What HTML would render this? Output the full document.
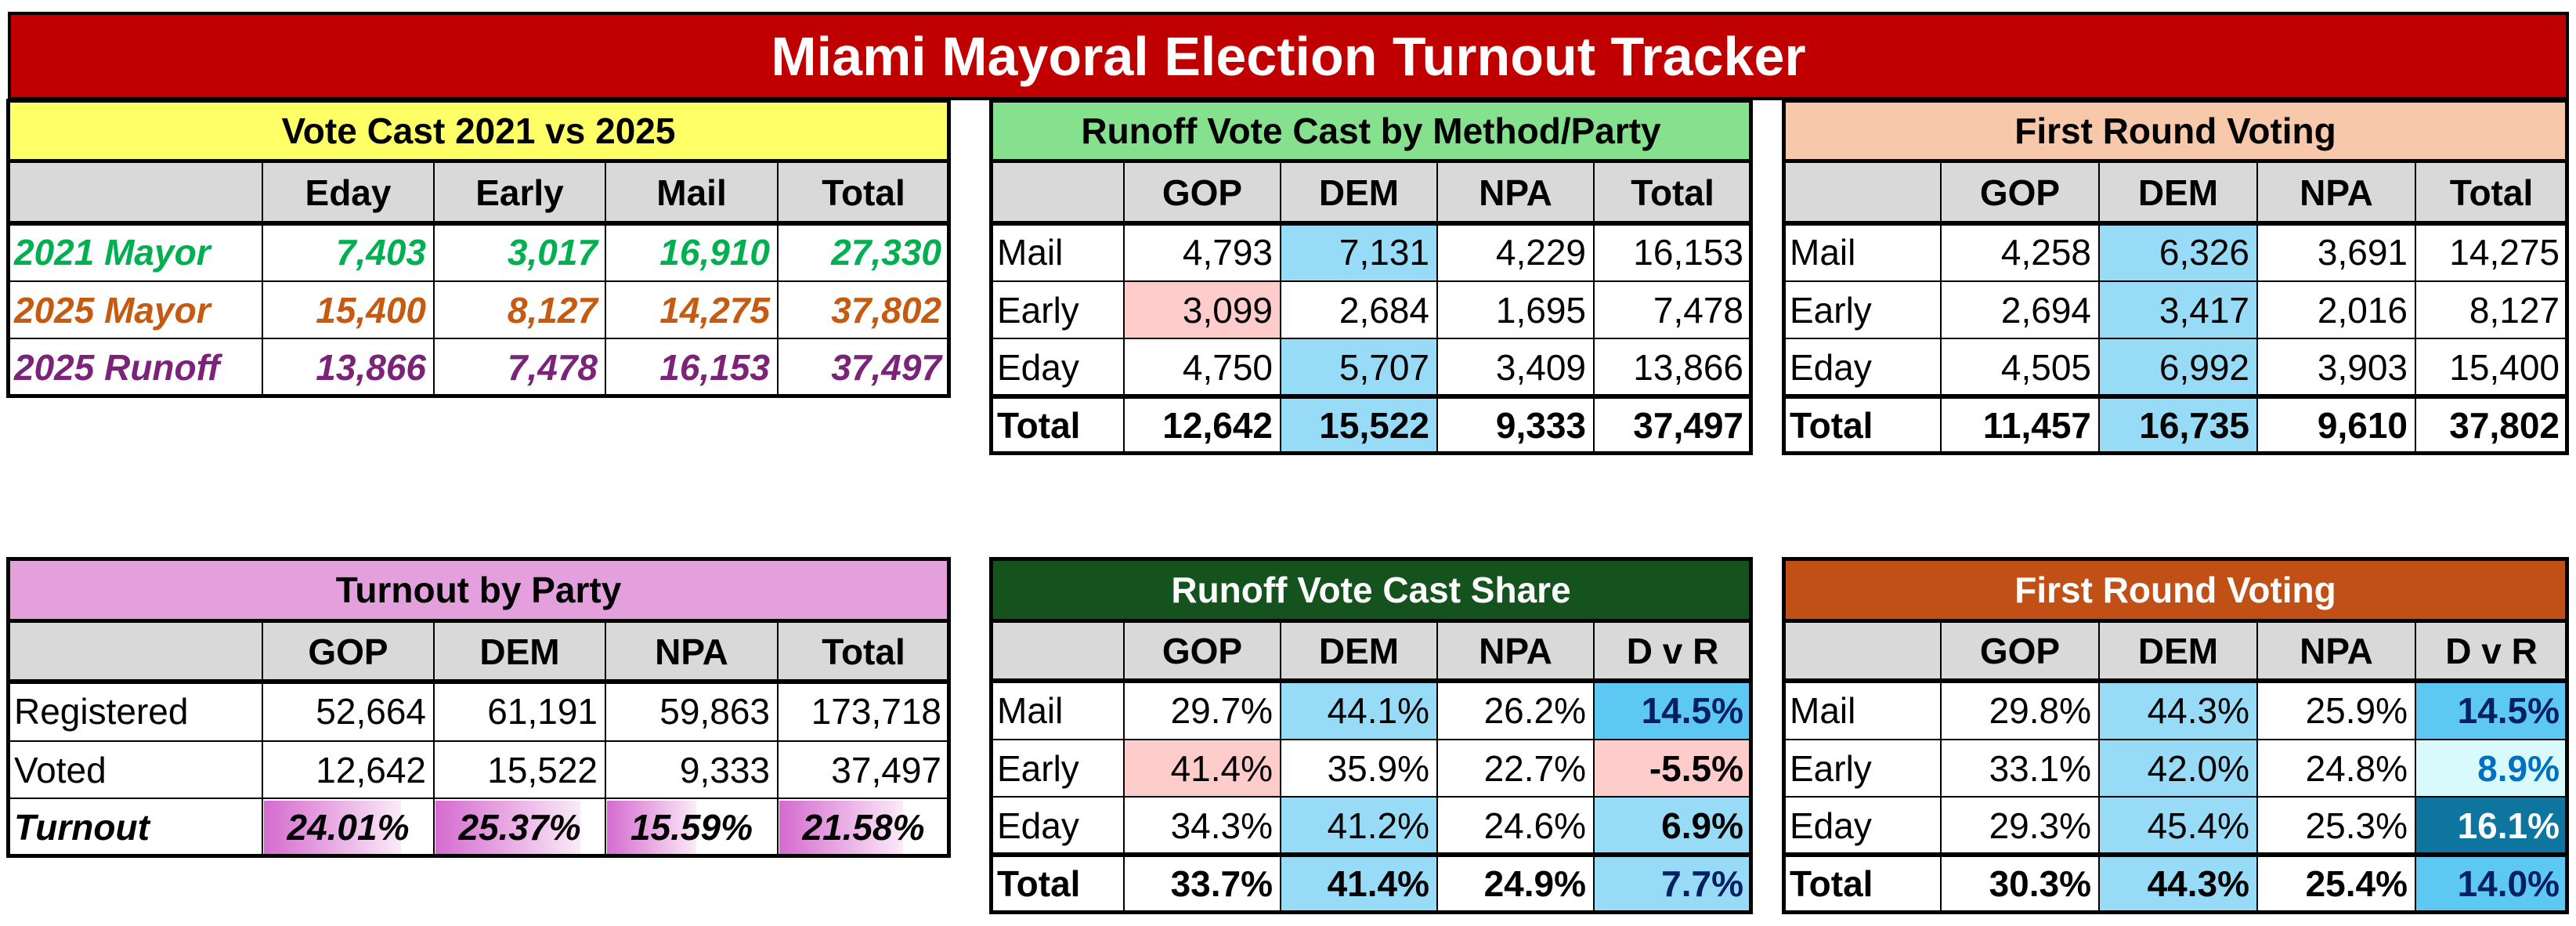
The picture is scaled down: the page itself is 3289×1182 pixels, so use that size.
<!DOCTYPE html>
<html><head><meta charset="utf-8">
<style>
html,body{margin:0;padding:0;background:#fff;}
body{width:3289px;height:1182px;position:relative;overflow:hidden;font-family:"Liberation Sans",sans-serif;}
.c{position:absolute;box-sizing:border-box;display:flex;align-items:center;font-size:46px;color:#000;white-space:nowrap;overflow:hidden;}
.ln{position:absolute;background:#000;}
#title{position:absolute;left:10px;top:15px;width:3270px;height:113px;box-sizing:border-box;border:4px solid #000;background:#C00000;color:#fff;font-weight:bold;font-size:70px;display:flex;align-items:center;justify-content:center;}
</style></head><body>
<div id="title">Miami Mayoral Election Turnout Tracker</div>
<script>
const t1Cols=["","Eday","Early","Mail","Total"];
const t1Labels=["2021 Mayor","2025 Mayor","2025 Runoff"];
const t1Values=[["7,403","3,017","16,910","27,330"],["15,400","8,127","14,275","37,802"],["13,866","7,478","16,153","37,497"]];
const t1Colors=["#00B050","#C55A11","#7B2378"];

const partyCols=["","GOP","DEM","NPA","Total"];
const shareCols=["","GOP","DEM","NPA","D v R"];
const methodLabels=["Mail","Early","Eday","Total"];
const t2Values=[["4,793","7,131","4,229","16,153"],["3,099","2,684","1,695","7,478"],["4,750","5,707","3,409","13,866"],["12,642","15,522","9,333","37,497"]];
const t3Values=[["4,258","6,326","3,691","14,275"],["2,694","3,417","2,016","8,127"],["4,505","6,992","3,903","15,400"],["11,457","16,735","9,610","37,802"]];
const t4Labels=["Registered","Voted","Turnout"];
const t4Values=[["52,664","61,191","59,863","173,718"],["12,642","15,522","9,333","37,497"]];
const turnoutPct=[24.01,25.37,15.59,21.58];
const t5Values=[["29.7%","44.1%","26.2%","14.5%"],["41.4%","35.9%","22.7%","-5.5%"],["34.3%","41.2%","24.6%","6.9%"],["33.7%","41.4%","24.9%","7.7%"]];
const t6Values=[["29.8%","44.3%","25.9%","14.5%"],["33.1%","42.0%","24.8%","8.9%"],["29.3%","45.4%","25.3%","16.1%"],["30.3%","44.3%","25.4%","14.0%"]];

const LB="#97DBF7", PK="#FFCCCC", MB="#5DC8F2", DB="#0E759E", LC="#D9FAFC", NV="#002060";

function cell(x,y,w,h,text,o){
  const d=document.createElement('div');
  d.className='c';
  d.style.left=x+'px';d.style.top=y+'px';d.style.width=w+'px';d.style.height=h+'px';
  d.style.background=o.bg||'transparent';
  d.style.color=o.color||'#000';
  d.style.fontWeight=o.bold?'bold':'normal';
  d.style.fontStyle=o.italic?'italic':'normal';
  d.style.justifyContent=o.align==='l'?'flex-start':(o.align==='r'?'flex-end':'center');
  d.style.paddingLeft=o.align==='l'?'8px':'0';
  d.style.paddingRight=o.align==='r'?'10px':'0';
  if(o.size)d.style.fontSize=o.size+'px';
  const s=document.createElement('span');
  s.style.position='relative';
  s.textContent=text;
  d.appendChild(s);
  document.body.appendChild(d);
  return d;
}
function line(x,y,w,h){
  const l=document.createElement('div');
  l.className='ln';
  l.style.left=x+'px';l.style.top=y+'px';l.style.width=w+'px';l.style.height=h+'px';
  
  
  document.body.appendChild(l);
}
function table(name,xs,ys,title,tbg,tcol,hdr,rows,hasTotal){
  const L=xs[0],R=xs[xs.length-1],T=ys[0],B=ys[ys.length-1];
  const tc=cell(L,T,R-L,ys[1]-T,title,{bg:tbg,color:tcol,bold:true});
  
  
  for(let j=0;j<hdr.length;j++){
    const hc=cell(xs[j],ys[1],xs[j+1]-xs[j],ys[2]-ys[1],hdr[j],{bg:'#D9D9D9',bold:true});
    
    
  }
  for(let i=0;i<rows.length;i++){
    for(let j=0;j<rows[i].length;j++){
      const r=rows[i][j];
      const rc=cell(xs[j],ys[i+2],xs[j+1]-xs[j],ys[i+3]-ys[i+2],r.t,r);
      
      
      if(r.bar!==undefined){
        rc.style.background='transparent';
        const b=document.createElement('div');
        b.style.position='absolute';b.style.left='2px';b.style.top='3px';b.style.bottom='3px';
        b.style.width=((xs[j+1]-xs[j])*r.bar/30)+'px';
        b.style.background='linear-gradient(90deg,#D56BCF,#FBEAF8)';
        
        
        rc.insertBefore(b,rc.firstChild);
      }
    }
  }
  for(let j=1;j<xs.length-1;j++) line(xs[j]-1,ys[1],2,B-ys[1]);
  for(let i=2;i<ys.length-1;i++) line(L,ys[i]-1,R-L,2);
  line(L,ys[1]-3,R-L,5);
  line(L,ys[2]-3,R-L,6);
  if(hasTotal) line(L,ys[ys.length-2]-3,R-L,6);
  line(L-2,T-2,R-L+4,5);line(L-2,B-3,R-L+4,5);
  line(L-2,T-2,5,B-T+4);line(R-3,T-2,5,B-T+4);
}
function plain(v,bold){return {t:v,align:'r',bold:bold};}

const colsA=[10,335,554,773,993,1212];
let rows1=t1Labels.map((lab,i)=>[{t:lab,align:'l',bold:true,italic:true,color:t1Colors[i]}].concat(t1Values[i].map(v=>({t:v,align:'r',bold:true,italic:true,color:t1Colors[i]}))));
table('vote-cast-2021-vs-2025',colsA,[128,206,285,359,432,506],'Vote Cast 2021 vs 2025','#FFFF66','#000',t1Cols,rows1,false);

const colsB=[1265,1435,1635,1835,2035,2236];
let rows2=methodLabels.map((lab,i)=>{const tot=i===3;return [{t:lab,align:'l',bold:tot}].concat(t2Values[i].map((v,j)=>{const o=plain(v,tot);if(j===1&&i!==1)o.bg=LB;if(i===1&&j===0)o.bg=PK;return o;}));});
table('runoff-vote-by-method',colsB,[128,206,285,359,432,506,579],'Runoff Vote Cast by Method/Party','#85E18D','#000',partyCols,rows2,true);

const colsC=[2277,2478,2680,2882,3084,3278];
let rows3=methodLabels.map((lab,i)=>{const tot=i===3;return [{t:lab,align:'l',bold:tot}].concat(t3Values[i].map((v,j)=>{const o=plain(v,tot);if(j===1)o.bg=LB;return o;}));});
table('first-round-voting',colsC,[128,206,285,359,432,506,579],'First Round Voting','#F7C8AA','#000',partyCols,rows3,true);

let rows4=[
 [{t:t4Labels[0],align:'l'}].concat(t4Values[0].map(v=>plain(v,false))),
 [{t:t4Labels[1],align:'l'}].concat(t4Values[1].map(v=>plain(v,false))),
 [{t:t4Labels[2],align:'l',bold:true,italic:true}].concat(turnoutPct.map(p=>({t:p.toFixed(2)+'%',align:'c',bold:true,italic:true,bar:p})))
];
table('turnout-by-party',colsA,[713,793,870,946,1019,1093],'Turnout by Party','#E4A0DC','#000',partyCols,rows4,false);

const dvr5=[{bg:MB,color:NV},{bg:PK,color:'#000'},{bg:LB,color:'#000'},{bg:LB,color:NV}];
let rows5=methodLabels.map((lab,i)=>{const tot=i===3;return [{t:lab,align:'l',bold:tot}].concat(t5Values[i].map((v,j)=>{const o=plain(v,tot);if(j===1&&i!==1)o.bg=LB;if(i===1&&j===0)o.bg=PK;if(j===3){o.bg=dvr5[i].bg;o.color=dvr5[i].color;o.bold=true;}return o;}));});
table('runoff-vote-share',colsB,[713,793,869,944,1017,1091,1165],'Runoff Vote Cast Share','#14521E','#fff',shareCols,rows5,true);

const dvr6=[{bg:MB,color:NV},{bg:LC,color:'#0070C0'},{bg:DB,color:'#fff'},{bg:MB,color:NV}];
let rows6=methodLabels.map((lab,i)=>{const tot=i===3;return [{t:lab,align:'l',bold:tot}].concat(t6Values[i].map((v,j)=>{const o=plain(v,tot);if(j===1)o.bg=LB;if(j===3){o.bg=dvr6[i].bg;o.color=dvr6[i].color;o.bold=true;}return o;}));});
table('first-round-share',colsC,[713,793,869,944,1017,1091,1165],'First Round Voting','#C05016','#fff',shareCols,rows6,true);
</script>
</body></html>
